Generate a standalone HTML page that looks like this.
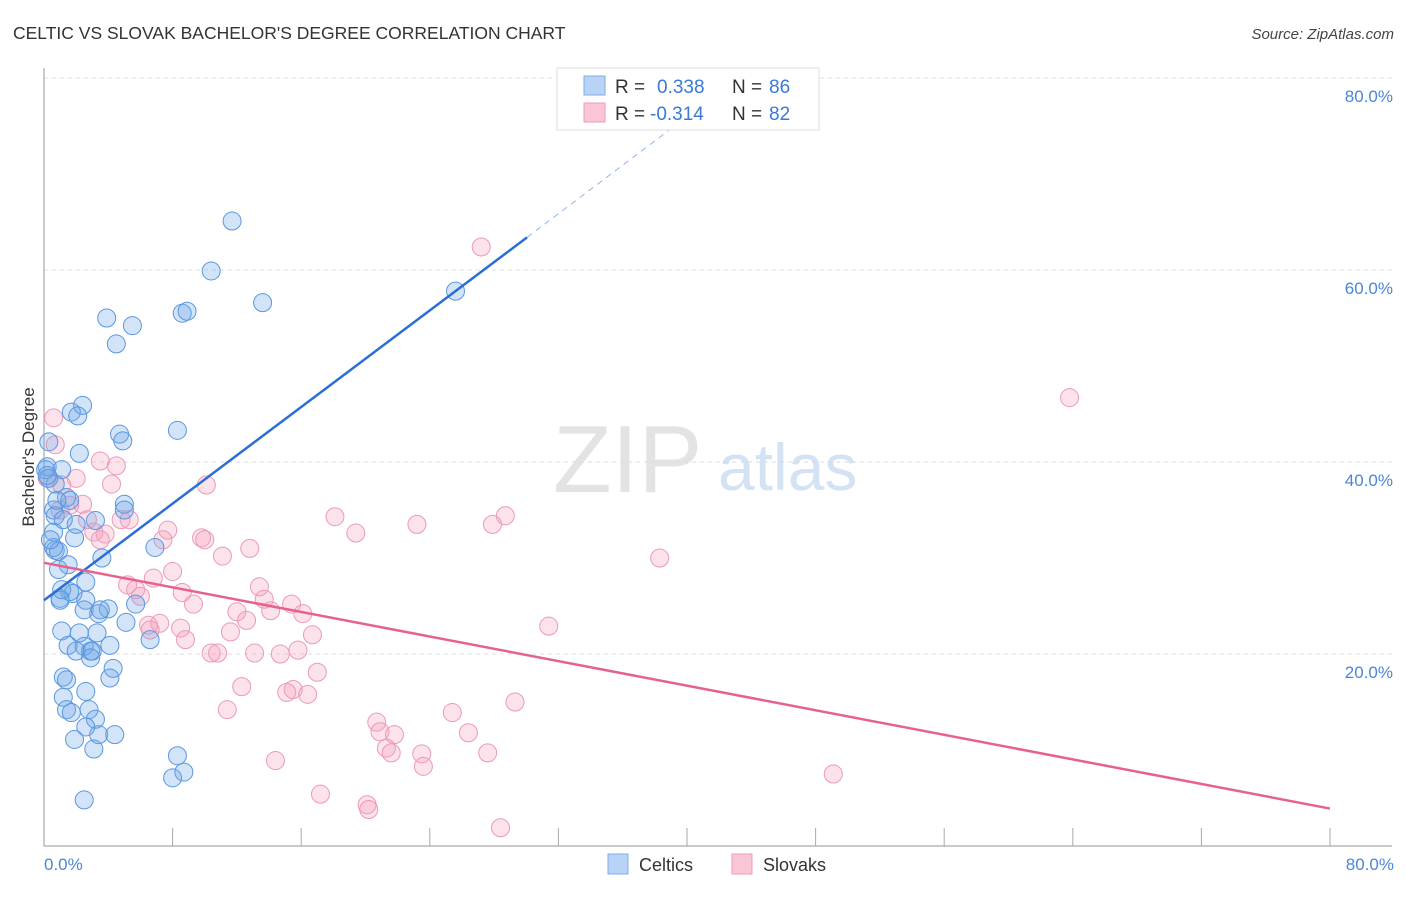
<!DOCTYPE html>
<html><head><meta charset="utf-8"><style>
body{margin:0;background:#fff;font-family:"Liberation Sans",sans-serif;}
svg text{font-family:"Liberation Sans",sans-serif;}
</style></head><body>
<svg id="chart" width="1406" height="892" xmlns="http://www.w3.org/2000/svg">
<text x="13" y="39" font-size="17.5" fill="#333">CELTIC VS SLOVAK BACHELOR'S DEGREE CORRELATION CHART</text>
<text x="1394" y="39" font-size="15" fill="#444" text-anchor="end" font-style="italic">Source: ZipAtlas.com</text>
<g id="grid"></g>
<text x="553" y="492" font-size="96" fill="#ddd" font-family="Liberation Serif" opacity="0.8">ZIP</text>
<text x="718" y="490" font-size="66" fill="#c9dcf2" opacity="0.8">atlas</text>
<line x1="44" y1="68" x2="44" y2="846" stroke="#aaa" stroke-width="1.2"/>
<line x1="44" y1="846" x2="1392" y2="846" stroke="#aaa" stroke-width="1.2"/>
<g id="ticks"></g>
<g id="pts"></g>
<g id="trends"></g>
<text transform="translate(34,457) rotate(-90)" font-size="17" fill="#333" text-anchor="middle">Bachelor's Degree</text>
<text x="44" y="870" font-size="17" fill="#4a86d8">0.0%</text>
<text x="1394" y="870" font-size="17" fill="#4a86d8" text-anchor="end">80.0%</text>
<g>
<rect x="557" y="68" width="262" height="62" fill="#fff" stroke="#ddd"/>
<rect x="584" y="76" width="21" height="19" fill="#b8d3f5" stroke="#7eaee8"/>
<rect x="584" y="103" width="21" height="19" fill="#f9c6d5" stroke="#ee9cb6"/>
<text x="615" y="93" font-size="19" fill="#333">R = </text><text x="657" y="93" font-size="19" fill="#3b78d8">0.338</text>
<text x="732" y="93" font-size="19" fill="#333">N = </text><text x="769" y="93" font-size="19" fill="#3b78d8">86</text>
<text x="615" y="120" font-size="19" fill="#333">R = </text><text x="650" y="120" font-size="19" fill="#3b78d8">-0.314</text>
<text x="732" y="120" font-size="19" fill="#333">N = </text><text x="769" y="120" font-size="19" fill="#3b78d8">82</text>
</g>
<g><rect x="608" y="854" width="20" height="20" fill="#b8d3f5" stroke="#7eaee8"/><text x="639" y="871" font-size="18" fill="#333">Celtics</text></g>
<g><rect x="732" y="854" width="20" height="20" fill="#f9c6d5" stroke="#ee9cb6"/><text x="763" y="871" font-size="18" fill="#333">Slovaks</text></g>
</svg>
<script>
const yTicks=[20,40,60,80];
const xTickVals=[0,8,16,24,32,40,48,56,64,72,80];
const celticsX=[11.7,10.4,13.6,25.6,3.9,5.5,8.6,8.9,4.5,2.4,1.7,2.1,4.7,4.9,8.3,0.3,2.2,0.2,1.1,0.3,0.7,1.4,1.6,0.6,0.7,5.0,5.0,3.2,2.0,0.6,1.9,0.7,0.6,0.9,3.6,6.9,1.5,0.9,2.6,1.6,1.8,1.0,2.6,2.5,4.0,5.7,5.1,3.4,1.1,2.2,3.3,1.5,2.5,4.1,2.0,2.9,3.0,2.9,4.3,6.6,1.2,1.4,4.1,2.6,1.2,2.8,1.4,1.7,3.2,3.4,2.6,4.4,1.9,3.1,8.3,8.0,8.7,2.5,1.0,0.4,0.1,0.2,0.8,1.2,1.1,3.5];
const celticsY=[65.1,59.9,56.6,57.8,55.0,54.2,55.5,55.7,52.3,45.9,45.2,44.8,42.9,42.2,43.3,42.1,40.9,39.5,39.2,38.3,37.7,36.3,36.0,35.0,34.4,35.6,35.0,33.9,33.5,32.7,32.1,30.8,31.1,30.7,30.0,31.1,29.3,28.8,27.5,26.5,26.3,25.8,25.6,24.6,24.7,25.2,23.3,24.2,22.4,22.2,22.2,20.9,20.8,20.9,20.3,20.3,20.3,19.6,18.5,21.5,17.6,17.3,17.5,16.1,15.5,14.2,14.2,13.9,13.2,11.6,12.4,11.6,11.1,10.1,9.4,7.1,7.7,4.8,25.6,31.9,39.2,38.6,36.0,34.0,26.7,24.6];
const slovaksX=[27.2,63.8,0.6,0.7,3.5,4.5,0.2,2.0,1.1,4.2,10.1,2.4,1.6,4.8,18.1,23.2,27.9,28.7,19.4,3.1,3.8,7.7,7.4,9.8,10.0,11.1,12.8,38.3,5.2,6.8,8.0,5.7,6.0,8.6,9.3,13.4,13.7,15.4,12.0,12.6,6.5,7.2,14.1,16.1,6.6,8.5,8.8,11.6,16.7,31.4,10.4,10.8,13.1,14.7,15.8,17.0,12.3,15.5,15.1,16.4,11.4,29.3,25.4,20.7,26.4,20.9,21.8,21.3,21.6,23.5,27.6,23.6,14.4,49.1,17.2,20.1,20.2,28.4,1.0,2.7,5.3,3.5];
const slovaksY=[62.4,46.7,44.6,41.8,40.1,39.6,38.3,38.3,37.6,37.7,37.6,35.6,35.5,34.0,34.3,33.5,33.5,34.4,32.6,32.7,32.5,32.9,31.9,32.1,31.9,30.2,31.0,30.0,27.2,27.9,28.6,26.7,26.0,26.4,25.2,27.0,25.7,25.2,24.4,23.5,23.0,23.2,24.5,24.2,22.5,22.7,21.5,22.3,22.0,22.9,20.1,20.1,20.1,20.0,20.4,18.1,16.6,16.3,16.0,15.8,14.2,15.0,13.9,12.9,11.8,11.9,11.6,10.2,9.7,9.6,9.7,8.3,8.9,7.5,5.4,4.3,3.8,1.9,35.0,34.0,34.0,31.9];
const celticsTrend=[[0,25.6],[30.05,63.4]];
const celticsTrendExt=[[30.05,63.4],[42,78.5]];
const slovaksTrend=[[0,29.5],[80,3.9]];
const NS="http://www.w3.org/2000/svg";
function xs(v){return 44+v*16.075;}
function ys(v){return 846-v*9.6;}
function mk(t,a,p){const e=document.createElementNS(NS,t);for(const k in a)e.setAttribute(k,a[k]);p.appendChild(e);return e;}
const grid=document.getElementById('grid');
yTicks.forEach(v=>{
 const l=mk('line',{x1:44,x2:1392,y1:ys(v),y2:ys(v),stroke:'#ddd','stroke-dasharray':'4,4'},grid);
 
 
 const t=mk('text',{x:1393,y:ys(v)+24,'font-size':17,fill:'#4a86d8','text-anchor':'end'},grid);
 t.textContent=v.toFixed(1)+'%';
 
 
});
const tk=document.getElementById('ticks');
xTickVals.forEach(v=>{
 const l=mk('line',{x1:xs(v),x2:xs(v),y1:828,y2:846,stroke:'#aaa'},tk);
 
 
});
const pts=document.getElementById('pts');
slovaksX.forEach((x,i)=>{
 const c=mk('circle',{cx:xs(x),cy:ys(slovaksY[i]),r:9,fill:'rgba(244,160,188,0.3)',stroke:'#ec9ab4','stroke-width':1},pts);
 
 
});
celticsX.forEach((x,i)=>{
 const c=mk('circle',{cx:xs(x),cy:ys(celticsY[i]),r:9,fill:'rgba(110,165,232,0.3)',stroke:'#5a97e0','stroke-width':1},pts);
 
 
});
const tr=document.getElementById('trends');
let a=mk('line',{x1:xs(celticsTrend[0][0]),y1:ys(celticsTrend[0][1]),x2:xs(celticsTrend[1][0]),y2:ys(celticsTrend[1][1]),stroke:'#2a6fd6','stroke-width':2.5},tr);


a=mk('line',{x1:xs(celticsTrendExt[0][0]),y1:ys(celticsTrendExt[0][1]),x2:xs(celticsTrendExt[1][0]),y2:ys(celticsTrendExt[1][1]),stroke:'#8fb4e8','stroke-width':1,'stroke-dasharray':'6,5'},tr);


a=mk('line',{x1:xs(slovaksTrend[0][0]),y1:ys(slovaksTrend[0][1]),x2:xs(slovaksTrend[1][0]),y2:ys(slovaksTrend[1][1]),stroke:'#e5628e','stroke-width':2.5},tr);


</script>
</body></html>
